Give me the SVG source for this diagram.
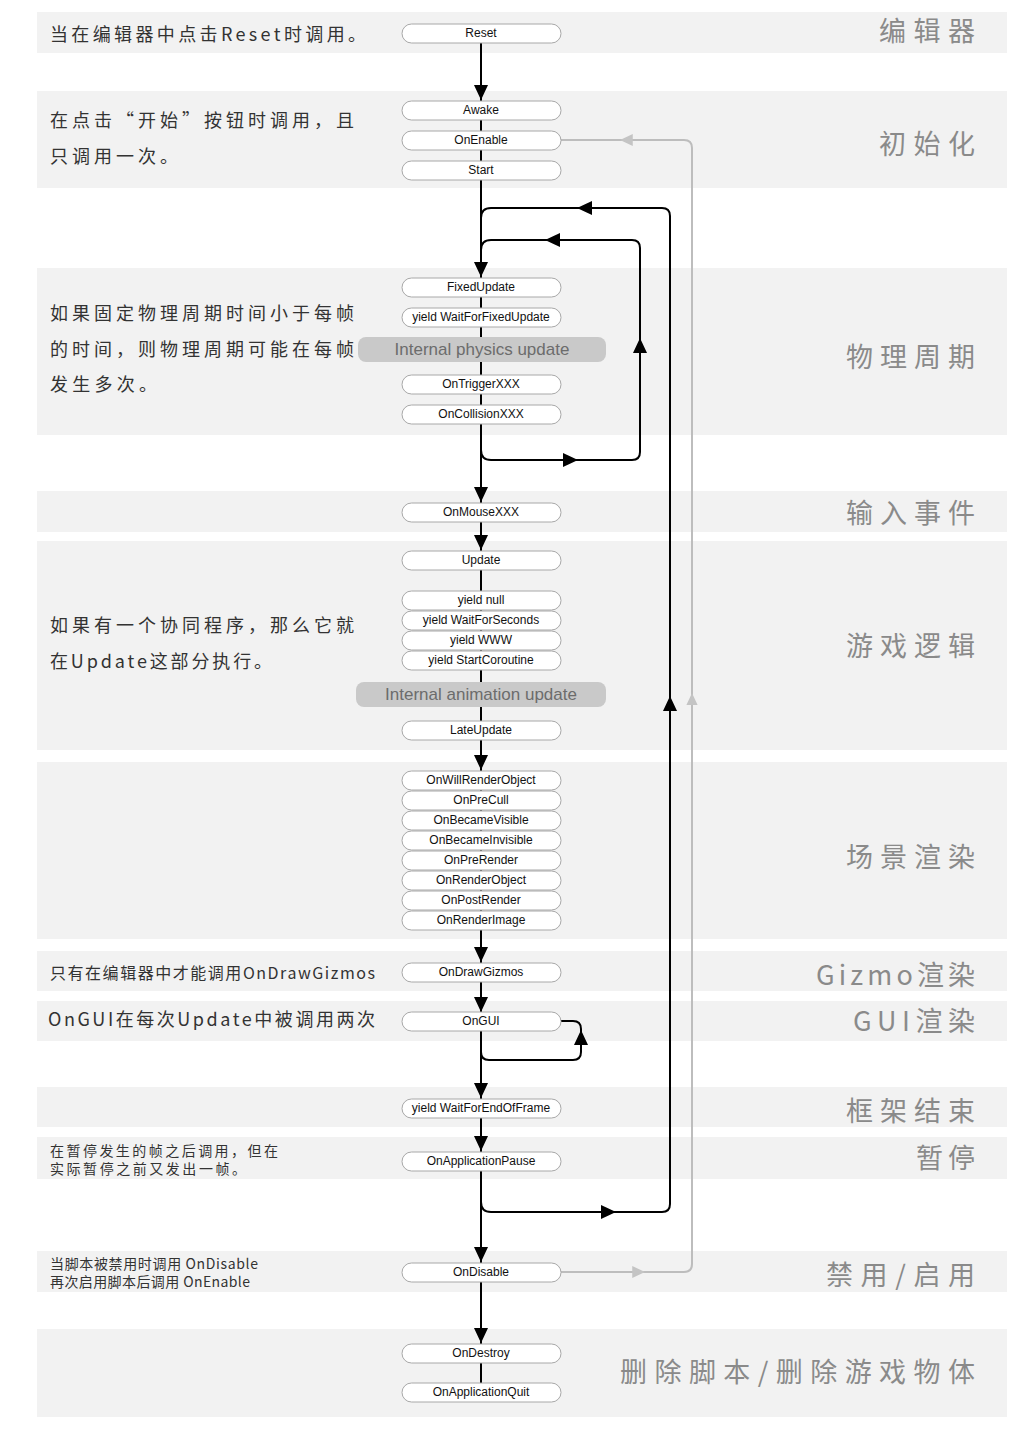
<svg xmlns="http://www.w3.org/2000/svg" xmlns:xlink="http://www.w3.org/1999/xlink" width="1029" height="1438" viewBox="0 0 1029 1438">
  <style>
    .band { fill: #f2f2f2; }
    .pill { fill: #ffffff; stroke: #a8a8a8; stroke-width: 1; }
    .inner { fill: #c9c9c9; }
    .lbl { font-family: "Liberation Sans", Arial, sans-serif; font-size: 12px; fill: #111; text-anchor: middle; dominant-baseline: central; }
    .ilbl { font-family: "Liberation Sans", Arial, sans-serif; font-size: 17px; fill: #6c6c6c; text-anchor: middle; dominant-baseline: central; }
    .note { font-family: "Noto Sans CJK SC", "Noto Sans CJK JP", sans-serif; fill: #333; dominant-baseline: central; }
    .sect { font-family: "Noto Sans CJK SC", "Noto Sans CJK JP", sans-serif; font-size: 27px; fill: #8a8a8a; dominant-baseline: central; }
    .flow { stroke: #000; stroke-width: 2; fill: none; }
    .back { stroke: #bdbdbd; stroke-width: 2; fill: none; }
    .head { fill: #000; }
    .ghead { fill: #c4c4c4; }
  </style>
  <defs>
    <!-- arrowhead with its tip at the origin, pointing down -->
    <path id="ah" d="M-7,-15 L7,-15 L0,0 Z"/>
  </defs>

  <rect width="1029" height="1438" fill="#ffffff"/>

  <!-- stage bands -->
  <g id="bands">
    <rect class="band" x="37" y="12" width="970" height="41"/>
    <rect class="band" x="37" y="91" width="970" height="97"/>
    <rect class="band" x="37" y="268" width="970" height="167"/>
    <rect class="band" x="37" y="491" width="970" height="41"/>
    <rect class="band" x="37" y="541" width="970" height="209"/>
    <rect class="band" x="37" y="762" width="970" height="177"/>
    <rect class="band" x="37" y="951" width="970" height="40"/>
    <rect class="band" x="37" y="1001" width="970" height="40"/>
    <rect class="band" x="37" y="1087" width="970" height="40"/>
    <rect class="band" x="37" y="1137" width="970" height="42"/>
    <rect class="band" x="37" y="1251" width="970" height="41"/>
    <rect class="band" x="37" y="1329" width="970" height="88"/>
  </g>

  <!-- stage titles -->
  <g id="stage-titles">
    <text class="sect" x="879" y="29" textLength="96" lengthAdjust="spacing">编辑器</text>
    <text class="sect" x="879" y="142" textLength="96" lengthAdjust="spacing">初始化</text>
    <text class="sect" x="846" y="355" textLength="129" lengthAdjust="spacing">物理周期</text>
    <text class="sect" x="846" y="511" textLength="129" lengthAdjust="spacing">输入事件</text>
    <text class="sect" x="846" y="644" textLength="129" lengthAdjust="spacing">游戏逻辑</text>
    <text class="sect" x="846" y="855" textLength="129" lengthAdjust="spacing">场景渲染</text>
    <text class="sect" x="816" y="973" textLength="159" lengthAdjust="spacing">Gizmo渲染</text>
    <text class="sect" x="853" y="1019" textLength="122" lengthAdjust="spacing">GUI渲染</text>
    <text class="sect" x="846" y="1109" textLength="129" lengthAdjust="spacing">框架结束</text>
    <text class="sect" x="916" y="1156" textLength="59" lengthAdjust="spacing">暂停</text>
    <text class="sect" x="826" y="1273" textLength="149" lengthAdjust="spacing">禁用/启用</text>
    <text class="sect" x="620" y="1370" textLength="355" lengthAdjust="spacing">删除脚本/删除游戏物体</text>
  </g>

  <!-- explanatory notes -->
  <g id="notes">
    <text class="note" x="50" y="33" font-size="18" textLength="316" lengthAdjust="spacing">当在编辑器中点击Reset时调用。</text>
    <text class="note" x="50" y="119" font-size="18" textLength="304" lengthAdjust="spacing">在点击“开始”按钮时调用，且</text>
    <text class="note" x="50" y="155" font-size="18" textLength="128" lengthAdjust="spacing">只调用一次。</text>
    <text class="note" x="50" y="312" font-size="18" textLength="304" lengthAdjust="spacing">如果固定物理周期时间小于每帧</text>
    <text class="note" x="50" y="348" font-size="18" textLength="304" lengthAdjust="spacing">的时间，则物理周期可能在每帧</text>
    <text class="note" x="50" y="383" font-size="18" textLength="107" lengthAdjust="spacing">发生多次。</text>
    <text class="note" x="50" y="624" font-size="18" textLength="304" lengthAdjust="spacing">如果有一个协同程序，那么它就</text>
    <text class="note" x="50" y="660" font-size="18" textLength="222" lengthAdjust="spacing">在Update这部分执行。</text>
    <text class="note" x="50" y="972" font-size="16" textLength="325" lengthAdjust="spacing">只有在编辑器中才能调用OnDrawGizmos</text>
    <text class="note" x="48" y="1018" font-size="18" textLength="327" lengthAdjust="spacing">OnGUI在每次Update中被调用两次</text>
    <text class="note" x="50" y="1150" font-size="14" textLength="228" lengthAdjust="spacing">在暂停发生的帧之后调用，但在</text>
    <text class="note" x="50" y="1168" font-size="14" textLength="196" lengthAdjust="spacing">实际暂停之前又发出一帧。</text>
    <text class="note" x="50" y="1263" font-size="14" textLength="208" lengthAdjust="spacing">当脚本被禁用时调用 OnDisable</text>
    <text class="note" x="50" y="1281" font-size="14" textLength="200" lengthAdjust="spacing">再次启用脚本后调用 OnEnable</text>
  </g>

  <!-- connectors -->
  <g id="connectors">
    <!-- main call sequence -->
    <line class="flow" x1="481" y1="43" x2="481" y2="1383"/>

    <!-- re-enable path (grey) -->
    <path class="back" d="M561,1272 L684,1272 Q692,1272 692,1264 L692,148 Q692,140 684,140 L561,140"/>
    <use href="#ah" class="ghead" transform="translate(645,1272) rotate(-90) scale(0.85)"/>
    <use href="#ah" class="ghead" transform="translate(692,693) rotate(180) scale(0.8)"/>
    <use href="#ah" class="ghead" transform="translate(620,140) rotate(90) scale(0.85)"/>

    <!-- per-frame loop -->
    <path class="flow" d="M481,218 Q481,208 491,208 L662,208 Q670,208 670,216 L670,1204 Q670,1212 662,1212 L491,1212 Q481,1212 481,1202"/>
    <use href="#ah" class="head" transform="translate(577,208) rotate(90)"/>
    <use href="#ah" class="head" transform="translate(670,696) rotate(180)"/>
    <use href="#ah" class="head" transform="translate(616,1212) rotate(-90)"/>

    <!-- fixed-step physics loop -->
    <path class="flow" d="M481,250 Q481,240 491,240 L632,240 Q640,240 640,248 L640,452 Q640,460 632,460 L491,460 Q481,460 481,450"/>
    <use href="#ah" class="head" transform="translate(545,240) rotate(90)"/>
    <use href="#ah" class="head" transform="translate(640,338) rotate(180)"/>
    <use href="#ah" class="head" transform="translate(578,460) rotate(-90)"/>

    <!-- OnGUI repeat -->
    <path class="flow" d="M561,1021 L573,1021 Q581,1021 581,1029 L581,1052 Q581,1060 573,1060 L489,1060 Q481,1060 481,1052"/>
    <use href="#ah" class="head" transform="translate(581,1030) rotate(180)"/>

    <!-- downward arrowheads -->
    <use href="#ah" class="head" x="481" y="100"/>
    <use href="#ah" class="head" x="481" y="277"/>
    <use href="#ah" class="head" x="481" y="502"/>
    <use href="#ah" class="head" x="481" y="550"/>
    <use href="#ah" class="head" x="481" y="770"/>
    <use href="#ah" class="head" x="481" y="962"/>
    <use href="#ah" class="head" x="481" y="1012"/>
    <use href="#ah" class="head" x="481" y="1098"/>
    <use href="#ah" class="head" x="481" y="1151"/>
    <use href="#ah" class="head" x="481" y="1262"/>
    <use href="#ah" class="head" x="481" y="1343"/>
  </g>

  <!-- event functions -->
  <g id="n-reset"><rect class="pill" x="402" y="24" width="159" height="19" rx="9.5"/><text class="lbl" x="481" y="33">Reset</text></g>
  <g id="n-awake"><rect class="pill" x="402" y="101" width="159" height="19" rx="9.5"/><text class="lbl" x="481" y="110">Awake</text></g>
  <g id="n-onenable"><rect class="pill" x="402" y="131" width="159" height="19" rx="9.5"/><text class="lbl" x="481" y="140">OnEnable</text></g>
  <g id="n-start"><rect class="pill" x="402" y="161" width="159" height="19" rx="9.5"/><text class="lbl" x="481" y="170">Start</text></g>

  <g id="n-fixedupdate"><rect class="pill" x="402" y="278" width="159" height="19" rx="9.5"/><text class="lbl" x="481" y="287">FixedUpdate</text></g>
  <g id="n-waitfixed"><rect class="pill" x="402" y="308" width="159" height="19" rx="9.5"/><text class="lbl" x="481" y="317">yield WaitForFixedUpdate</text></g>
  <g id="n-physics"><rect class="inner" x="358" y="337" width="248" height="25" rx="8"/><text class="ilbl" x="482" y="349">Internal physics update</text></g>
  <g id="n-trigger"><rect class="pill" x="402" y="375" width="159" height="19" rx="9.5"/><text class="lbl" x="481" y="384">OnTriggerXXX</text></g>
  <g id="n-collision"><rect class="pill" x="402" y="405" width="159" height="19" rx="9.5"/><text class="lbl" x="481" y="414">OnCollisionXXX</text></g>

  <g id="n-mouse"><rect class="pill" x="402" y="503" width="159" height="19" rx="9.5"/><text class="lbl" x="481" y="512">OnMouseXXX</text></g>

  <g id="n-update"><rect class="pill" x="402" y="551" width="159" height="19" rx="9.5"/><text class="lbl" x="481" y="560">Update</text></g>
  <g id="n-yieldnull"><rect class="pill" x="402" y="591" width="159" height="19" rx="9.5"/><text class="lbl" x="481" y="600">yield null</text></g>
  <g id="n-waitseconds"><rect class="pill" x="402" y="611" width="159" height="19" rx="9.5"/><text class="lbl" x="481" y="620">yield WaitForSeconds</text></g>
  <g id="n-www"><rect class="pill" x="402" y="631" width="159" height="19" rx="9.5"/><text class="lbl" x="481" y="640">yield WWW</text></g>
  <g id="n-startcoroutine"><rect class="pill" x="402" y="651" width="159" height="19" rx="9.5"/><text class="lbl" x="481" y="660">yield StartCoroutine</text></g>
  <g id="n-animation"><rect class="inner" x="356" y="682" width="250" height="25" rx="8"/><text class="ilbl" x="481" y="694">Internal animation update</text></g>
  <g id="n-lateupdate"><rect class="pill" x="402" y="721" width="159" height="19" rx="9.5"/><text class="lbl" x="481" y="730">LateUpdate</text></g>

  <g id="n-willrender"><rect class="pill" x="402" y="771" width="159" height="19" rx="9.5"/><text class="lbl" x="481" y="780">OnWillRenderObject</text></g>
  <g id="n-precull"><rect class="pill" x="402" y="791" width="159" height="19" rx="9.5"/><text class="lbl" x="481" y="800">OnPreCull</text></g>
  <g id="n-visible"><rect class="pill" x="402" y="811" width="159" height="19" rx="9.5"/><text class="lbl" x="481" y="820">OnBecameVisible</text></g>
  <g id="n-invisible"><rect class="pill" x="402" y="831" width="159" height="19" rx="9.5"/><text class="lbl" x="481" y="840">OnBecameInvisible</text></g>
  <g id="n-prerender"><rect class="pill" x="402" y="851" width="159" height="19" rx="9.5"/><text class="lbl" x="481" y="860">OnPreRender</text></g>
  <g id="n-renderobject"><rect class="pill" x="402" y="871" width="159" height="19" rx="9.5"/><text class="lbl" x="481" y="880">OnRenderObject</text></g>
  <g id="n-postrender"><rect class="pill" x="402" y="891" width="159" height="19" rx="9.5"/><text class="lbl" x="481" y="900">OnPostRender</text></g>
  <g id="n-renderimage"><rect class="pill" x="402" y="911" width="159" height="19" rx="9.5"/><text class="lbl" x="481" y="920">OnRenderImage</text></g>

  <g id="n-drawgizmos"><rect class="pill" x="402" y="963" width="159" height="19" rx="9.5"/><text class="lbl" x="481" y="972">OnDrawGizmos</text></g>
  <g id="n-ongui"><rect class="pill" x="402" y="1012" width="159" height="19" rx="9.5"/><text class="lbl" x="481" y="1021">OnGUI</text></g>
  <g id="n-endofframe"><rect class="pill" x="402" y="1099" width="159" height="19" rx="9.5"/><text class="lbl" x="481" y="1108">yield WaitForEndOfFrame</text></g>
  <g id="n-pause"><rect class="pill" x="402" y="1152" width="159" height="19" rx="9.5"/><text class="lbl" x="481" y="1161">OnApplicationPause</text></g>
  <g id="n-ondisable"><rect class="pill" x="402" y="1263" width="159" height="19" rx="9.5"/><text class="lbl" x="481" y="1272">OnDisable</text></g>
  <g id="n-ondestroy"><rect class="pill" x="402" y="1344" width="159" height="19" rx="9.5"/><text class="lbl" x="481" y="1353">OnDestroy</text></g>
  <g id="n-quit"><rect class="pill" x="402" y="1383" width="159" height="19" rx="9.5"/><text class="lbl" x="481" y="1392">OnApplicationQuit</text></g>
</svg>
